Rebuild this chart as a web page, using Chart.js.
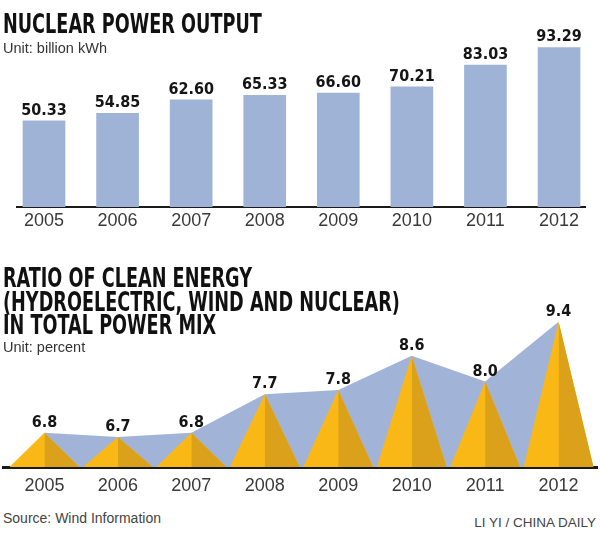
<!DOCTYPE html>
<html>
<head>
<meta charset="utf-8">
<script src="https://cdn.jsdelivr.net/npm/chart.js@4/dist/chart.umd.min.js"></script>
<style>
  html, body { margin: 0; padding: 0; background: #fff; }
  #wrap { position: relative; width: 600px; height: 534px; overflow: hidden; }
  canvas { position: absolute; left: 0; }
  .txt { position: absolute; white-space: nowrap; }
  .title { font-family: "DejaVu Sans Condensed", "DejaVu Sans", sans-serif; font-weight: bold; font-size: 26px; color: #111; left: 3px; transform: scaleX(0.755); transform-origin: 0 0; }
  .unit { font-family: "Liberation Sans", sans-serif; font-size: 14.5px; line-height: 14.5px; color: #333; left: 3px; }
  .foot { font-family: "Liberation Sans", sans-serif; color: #444; line-height: 1; }
</style>
</head>
<body>
<div id="wrap">
  <canvas id="output" width="600" height="240" style="top:0"></canvas>
  <canvas id="ratio" width="600" height="260" style="top:240px"></canvas>

  <div class="txt title" style="top:11px; line-height:26px">NUCLEAR POWER OUTPUT</div>
  <div class="txt unit" style="top:41px">Unit: billion kWh</div>

  <div class="txt title" style="top:267px; line-height:23.5px">RATIO OF CLEAN ENERGY<br>(HYDROELECTRIC, WIND AND NUCLEAR)<br>IN TOTAL POWER MIX</div>
  <div class="txt unit" style="top:340px">Unit: percent</div>

  <div class="txt foot" style="top:511px; left:3px; font-size:14px">Source: Wind Information</div>
  <div class="txt foot" style="top:516px; right:4px; font-size:13.5px">LI YI / CHINA DAILY</div>
</div>

<script>
// data
const years = ['2005', '2006', '2007', '2008', '2009', '2010', '2011', '2012'];
const nuclearOutput = [50.33, 54.85, 62.60, 65.33, 66.60, 70.21, 83.03, 93.29];
const cleanRatio = [6.8, 6.7, 6.8, 7.7, 7.8, 8.6, 8.0, 9.4];

const barBlue = '#9fb3d7';
const areaBlue = '#a1b4d8';
const goldLight = '#fab817';
const goldDark = '#dca11b';
const labelFont = 'bold 16px "DejaVu Sans Condensed", "Liberation Sans", sans-serif';
const tickFont = { family: '"Liberation Sans", sans-serif', size: 18 };

// one tick per year, labelled with the year
var yearTicks = function(scale) {
  scale.ticks = years.map((y, i) => ({ value: i }));
};

// value labels above the marks of one dataset
var valueLabels = function(dsIndex, digits) {
  return {
    id: 'valueLabels',
    afterDatasetsDraw: function(chart) {
      const ctx = chart.ctx;
      const meta = chart.getDatasetMeta(dsIndex);
      ctx.save();
      ctx.font = labelFont;
      ctx.fillStyle = '#151515';
      ctx.textAlign = 'center';
      ctx.textBaseline = 'alphabetic';
      meta.data.forEach(function(el, i) {
        const v = chart.data.datasets[dsIndex].data[i].y;
        ctx.fillText(v.toFixed(digits), el.x, el.y - 6);
      });
      ctx.restore();
    }
  };
};

// top chart: bars
var chart1 = new Chart(document.getElementById('output'), {
  type: 'bar',
  data: {
    datasets: [{
      data: nuclearOutput.map((v, i) => ({ x: i, y: v })),
      backgroundColor: barBlue,
      barThickness: 42
    }]
  },
  options: {
    responsive: false,
    animation: false,
    events: [],
    layout: { padding: { left: 17, right: 15, top: 36, bottom: 0 } },
    plugins: { legend: { display: false }, tooltip: { enabled: false } },
    scales: {
      x: {
        type: 'linear',
        offset: false,
        min: -0.367,
        max: 7.353,
        z: 1,
        afterBuildTicks: yearTicks,
        afterFit: function(s) { s.height = 33; },
        grid: { display: false, drawTicks: false, offset: false },
        border: { display: true, color: '#1a1a1a', width: 2 },
        ticks: { font: tickFont, color: '#3a3a3a', padding: 3, callback: (v) => years[v] }
      },
      y: { display: false, min: 0, max: 100 }
    }
  },
  plugins: [valueLabels(0, 2)]
});

// bottom chart: blue area joining the peaks, gold pyramids per year
var ratioSets = [{
  data: cleanRatio.map((v, i) => ({ x: i, y: v })),
  backgroundColor: areaBlue,
  borderWidth: 0,
  borderColor: 'rgba(0,0,0,0)',
  pointRadius: 0,
  fill: 'start',
  order: 3
}];
const half = 0.475;
cleanRatio.forEach(function(v, i) {
  ratioSets.push({
    data: [{ x: i - half, y: 6 }, { x: i, y: v }, { x: i + half, y: 6 }],
    backgroundColor: goldLight,
    borderWidth: 0,
    borderColor: 'rgba(0,0,0,0)',
    pointRadius: 0,
    fill: 'start',
    order: 2
  });
  ratioSets.push({
    data: [{ x: i, y: v }, { x: i + half, y: 6 }],
    backgroundColor: goldDark,
    borderWidth: 0,
    borderColor: 'rgba(0,0,0,0)',
    pointRadius: 0,
    fill: 'start',
    order: 1
  });
});

var chart2 = new Chart(document.getElementById('ratio'), {
  type: 'line',
  data: { datasets: ratioSets },
  options: {
    responsive: false,
    animation: false,
    events: [],
    layout: { padding: { left: 3, right: 3, top: 56, bottom: 0 } },
    plugins: { legend: { display: false }, tooltip: { enabled: false } },
    scales: {
      x: {
        type: 'linear',
        min: -0.564,
        max: 7.523,
        z: 1,
        afterBuildTicks: yearTicks,
        afterFit: function(s) { s.height = 33; },
        grid: { display: false, drawTicks: false },
        border: { display: true, color: '#1a1a1a', width: 3 },
        ticks: { font: tickFont, color: '#3a3a3a', padding: 8, callback: (v) => years[v] }
      },
      y: { display: false, min: 6, max: 10 }
    }
  },
  plugins: [valueLabels(0, 1)]
});
</script>
</body>
</html>
